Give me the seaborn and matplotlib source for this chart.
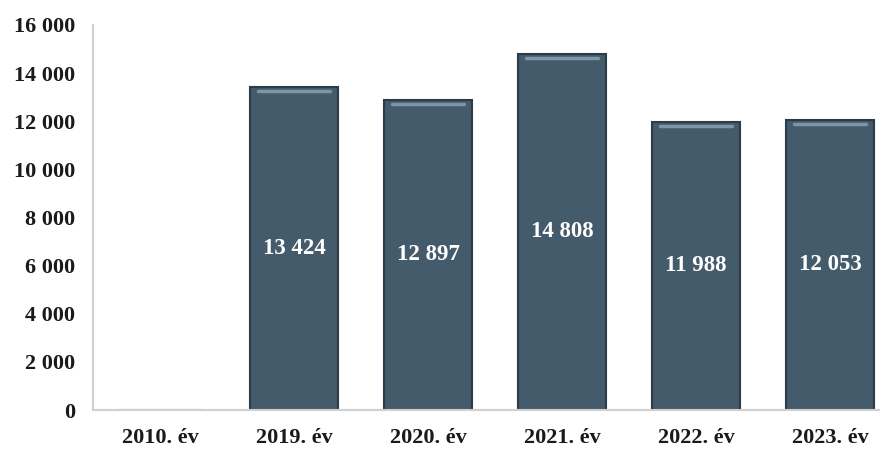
import matplotlib
matplotlib.use("Agg")
import matplotlib.pyplot as plt
import seaborn as sns
import pandas as pd

years = ["2010. év", "2019. év", "2020. év", "2021. év", "2022. év", "2023. év"]
values = [0, 13424, 12897, 14808, 11988, 12053]
value_labels = ["", "13 424", "12 897", "14 808", "11 988", "12 053"]
yticks = [0, 2000, 4000, 6000, 8000, 10000, 12000, 14000, 16000]
ytick_labels = ["0", "2 000", "4 000", "6 000", "8 000", "10 000", "12 000", "14 000", "16 000"]

sns.set_theme(style="white")
plt.rcParams["font.family"] = ["Liberation Serif", "DejaVu Serif"]

df = pd.DataFrame({"year": years, "value": values})

fig = plt.figure(figsize=(8.8, 4.54), dpi=100)
ax = fig.add_axes([93 / 880, 44 / 454, 804 / 880, 385 / 454])

sns.barplot(data=df, x="year", y="value", ax=ax, color="#445b6c",
            width=0.66, edgecolor="#2c3b46", linewidth=1.5, saturation=1)

# subtle top highlight to mimic bevel
for p in ax.patches:
    h = p.get_height()
    if h > 0:
        ax.plot([p.get_x() + 0.06, p.get_x() + p.get_width() - 0.06],
                [h - 180, h - 180], color="#7f95a5", lw=2.5, solid_capstyle="round")

ax.bar_label(ax.containers[0], labels=value_labels, label_type="center",
             color="white", fontsize=16.5, fontweight="bold", padding=0)

ax.set_ylim(0, 16000)
ax.set_xlim(-0.5, 5.5)
ax.set_yticks(yticks)
ax.set_yticklabels(ytick_labels, fontsize=16, fontweight="bold", color="#1a1a1a")
ax.set_xticks(range(len(years)))
ax.set_xticklabels(years, fontsize=16, fontweight="bold", color="#1a1a1a")
ax.set_xlabel("")
ax.set_ylabel("")
ax.tick_params(axis="y", length=0, pad=13)
ax.tick_params(axis="x", length=0, pad=13)

for s in ["top", "right"]:
    ax.spines[s].set_visible(False)
ax.spines["left"].set_color("#d0d0d0")
ax.spines["bottom"].set_color("#d0d0d0")
ax.spines["left"].set_linewidth(1.5)
ax.spines["bottom"].set_linewidth(1.5)

fig.savefig("out.png", dpi=100)
